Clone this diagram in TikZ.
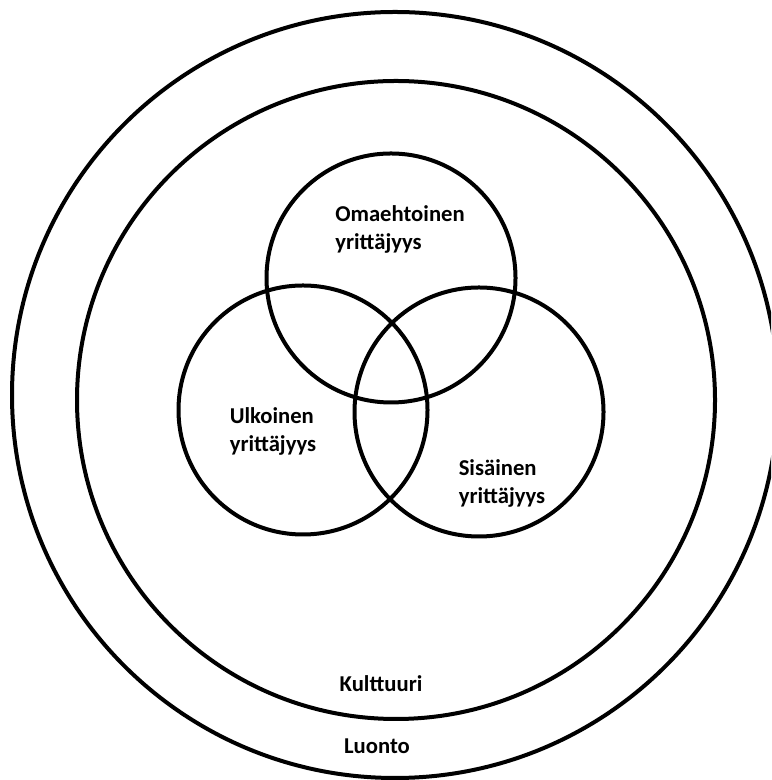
\documentclass[tikz,border=0pt]{standalone}
\usepackage{fontspec}
\setmainfont{Carlito}
\usepackage{tikz}

\tikzset{
  ring/.style={draw=black, line width=3pt, circle, inner sep=0pt},
  label/.style={font=\fontsize{17}{21}\selectfont\bfseries, align=left, inner sep=0pt}
}

\begin{document}
\begin{tikzpicture}[x=0.75pt, y=0.75pt]
\useasboundingbox (0,0) rectangle (771,780);
\clip (0,0) rectangle (771,780);
\node[ring, minimum size=766*0.75pt] (luonto) at (395,385) {};
\node[ring, minimum size=638*0.75pt] (kulttuuri) at (396,380) {};
\foreach \name/\x/\y in {oma/391/502, ulko/303/370, sisa/479/368}{
	\node[ring, minimum size=249*0.75pt] (\name) at (\x,\y) {};
}
\node[label] (omateksti) at (400,551) {Omaehtoinen\\yrittäjyys};
\node[label] (ulkoteksti) at (273,349) {Ulkoinen\\yrittäjyys};
\node[label] (sisateksti) at (502,297) {Sisäinen\\yrittäjyys};
\node[label] (kulttuuriteksti) at (381,96) {Kulttuuri};
\node[label] (luontoteksti) at (377,34) {Luonto};
\end{tikzpicture}
\end{document}
